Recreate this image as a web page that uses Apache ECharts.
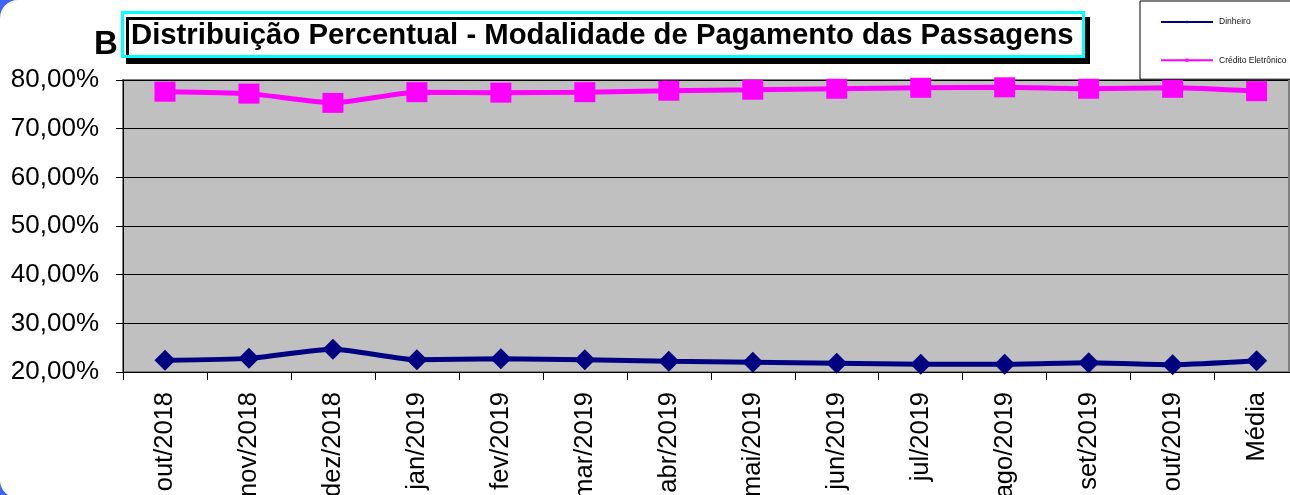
<!DOCTYPE html>
<html>
<head>
<meta charset="utf-8">
<script src="https://cdn.jsdelivr.net/npm/echarts@6/dist/echarts.min.js"></script>
<style>
html,body{margin:0;padding:0;width:1290px;height:495px;overflow:hidden;background:#3f63f5;}
#bg{position:absolute;left:0;top:0;width:1400px;height:498px;background:#fff;border-radius:18px;}
#chart{position:absolute;left:0;top:0;width:1290px;height:495px;}
</style>
</head>
<body>
<div id="bg"></div>
<div id="chart"></div>
<script>
const categories = ['out/2018','nov/2018','dez/2018','jan/2019','fev/2019','mar/2019','abr/2019','mai/2019','jun/2019','jul/2019','ago/2019','set/2019','out/2019','Média'];
const dinheiro = [22.4, 22.8, 24.7, 22.5, 22.7, 22.5, 22.2, 22.0, 21.8, 21.6, 21.6, 21.9, 21.5, 22.3];
const credito  = [77.6, 77.2, 75.3, 77.5, 77.4, 77.5, 77.8, 78.0, 78.2, 78.4, 78.5, 78.2, 78.4, 77.7];
const yMin = 20, yMax = 80, yStep = 10;
const titleText = 'Distribuição Percentual - Modalidade de Pagamento das Passagens';

const font = '"Liberation Sans", Arial, sans-serif';
const chart = echarts.init(document.getElementById('chart'), null, {renderer:'canvas'});
chart.setOption({
  backgroundColor: 'transparent',
  animation: false,
  title: [{
    text: titleText,
    left: 122, top: 12,
    padding: [8, 10, 5, 9],
    backgroundColor: '#fff',
    borderColor: '#00ffff',
    borderWidth: 3,
    shadowColor: '#000',
    shadowBlur: 0,
    shadowOffsetX: 5,
    shadowOffsetY: 6,
    textStyle: {fontFamily: font, fontSize: 29.3, fontWeight: 'bold', color: '#000', lineHeight: 32}
  }, {
    text: 'B',
    left: 94, top: 28,
    padding: 0,
    textStyle: {fontFamily: font, fontSize: 33, fontWeight: 'bold', color: '#000'}
  }],
  legend: {
    orient: 'vertical',
    left: 1140, top: 1,
    padding: [16.5, 40, 14.5, 20],
    itemWidth: 52, itemHeight: 4,
    itemGap: 29.2,
    backgroundColor: '#fff',
    borderColor: '#000',
    borderWidth: 1,
    textStyle: {fontFamily: font, fontSize: 8.5, color: '#111', padding: [0,0,0,1]},
    data: ['Dinheiro', 'Crédito Eletrônico']
  },
  grid: {
    left: 123, top: 80, width: 1175.6, height: 292,
    containLabel: false,
    outerBoundsMode: 'none',
    show: true, backgroundColor: '#c0c0c0', borderColor: '#808080', borderWidth: 2
  },
  xAxis: {
    type: 'category',
    data: categories,
    boundaryGap: true,
    axisLine: {show: true, lineStyle: {color: '#000', width: 1}},
    axisTick: {show: true, length: 8, lineStyle: {color: '#000'}},
    axisLabel: {rotate: 90, margin: 20, fontFamily: font, fontSize: 25.5, color: '#000', interval: 0}
  },
  yAxis: {
    type: 'value',
    min: yMin, max: yMax, interval: yStep,
    axisLine: {show: true, lineStyle: {color: '#000', width: 1}},
    axisTick: {show: true, length: 7, lineStyle: {color: '#000'}},
    splitLine: {show: true, lineStyle: {color: '#000', width: 1}},
    axisLabel: {
      margin: 24, fontFamily: font, fontSize: 26, color: '#000',
      formatter: v => v.toFixed(2).replace('.', ',') + '%'
    }
  },
  series: [{
    name: 'Dinheiro',
    type: 'line',
    data: dinheiro,
    smooth: 0.2,
    symbol: 'diamond',
    symbolSize: [21, 21],
    lineStyle: {color: '#000080', width: 5},
    itemStyle: {color: '#000080'}
  }, {
    name: 'Crédito Eletrônico',
    type: 'line',
    data: credito,
    smooth: 0.2,
    symbol: 'rect',
    symbolSize: [21, 20],
    lineStyle: {color: '#ff00ff', width: 5},
    itemStyle: {color: '#ff00ff'}
  }],
  graphic: [{
    type: 'line',
    shape: {x1: 1289, y1: 80, x2: 1289, y2: 372},
    style: {stroke: '#808080', lineWidth: 2},
    z: 10
  }]
});
</script>
</body>
</html>
